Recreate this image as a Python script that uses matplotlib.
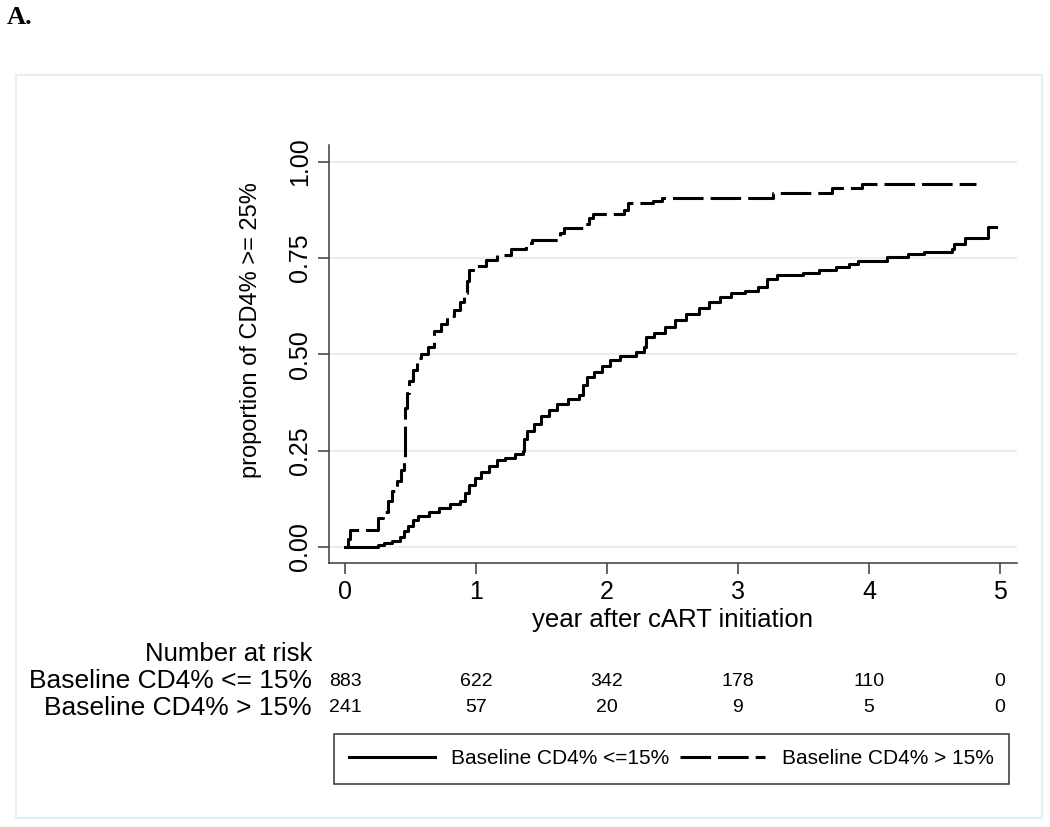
import matplotlib
matplotlib.use("Agg")
import matplotlib.pyplot as plt
from matplotlib.patches import Rectangle
from matplotlib.lines import Line2D

# Kaplan-Meier style curves (years, cumulative proportion)
low_t = [0, 0.25, 0.30, 0.36, 0.42, 0.45, 0.48, 0.52, 0.56, 0.64, 0.72, 0.80,
         0.88, 0.92, 0.95, 0.99, 1.04, 1.10, 1.16, 1.22, 1.30, 1.36, 1.37, 1.39,
         1.44, 1.50, 1.56, 1.62, 1.70, 1.79, 1.82, 1.85, 1.90, 1.96, 2.02, 2.10,
         2.22, 2.28, 2.30, 2.36, 2.44, 2.52, 2.60, 2.70, 2.78, 2.86, 2.95, 3.05,
         3.15, 3.22, 3.30, 3.50, 3.62, 3.75, 3.85, 3.92, 4.14, 4.30, 4.42, 4.63,
         4.65, 4.73, 4.91, 4.97]
low_p = [0, 0.005, 0.01, 0.016, 0.025, 0.04, 0.055, 0.07, 0.08, 0.09, 0.10, 0.11,
         0.12, 0.14, 0.16, 0.18, 0.195, 0.21, 0.225, 0.23, 0.24, 0.25, 0.28, 0.30,
         0.32, 0.34, 0.355, 0.37, 0.385, 0.395, 0.42, 0.44, 0.455, 0.47, 0.485, 0.496,
         0.505, 0.52, 0.545, 0.555, 0.57, 0.59, 0.605, 0.62, 0.635, 0.65, 0.66, 0.665,
         0.675, 0.695, 0.705, 0.712, 0.72, 0.728, 0.735, 0.742, 0.752, 0.76, 0.767, 0.775,
         0.788, 0.802, 0.83, 0.83]

high_t = [0, 0.02, 0.04, 0.25, 0.29, 0.33, 0.36, 0.40, 0.43, 0.45, 0.455, 0.46,
          0.47, 0.49, 0.52, 0.55, 0.58, 0.63, 0.68, 0.73, 0.78, 0.83, 0.88, 0.91,
          0.93, 0.95, 1.00, 1.08, 1.16, 1.27, 1.38, 1.43, 1.64, 1.67, 1.82, 1.86,
          1.89, 2.13, 2.16, 2.35, 2.42, 3.27, 3.72, 3.95, 4.82]
high_p = [0, 0.02, 0.045, 0.075, 0.09, 0.12, 0.145, 0.17, 0.20, 0.23, 0.30, 0.36,
          0.40, 0.43, 0.46, 0.49, 0.50, 0.52, 0.56, 0.58, 0.60, 0.615, 0.635, 0.66,
          0.69, 0.72, 0.73, 0.745, 0.758, 0.775, 0.79, 0.797, 0.815, 0.828, 0.84, 0.855,
          0.866, 0.875, 0.893, 0.899, 0.907, 0.92, 0.932, 0.943, 0.943]

risk_years = [0, 1, 2, 3, 4, 5]
risk_low = [883, 622, 342, 178, 110, 0]
risk_high = [241, 57, 20, 9, 5, 0]

label_low = 'Baseline CD4% <=15%'
label_high = 'Baseline CD4% > 15%'
row_low = 'Baseline CD4% <= 15%'
row_high = 'Baseline CD4% > 15%'

SANS = ['Liberation Sans', 'DejaVu Sans']
GRID = '#e6eff1'
AXC = '#3a3a3a'

fig = plt.figure(figsize=(10.5, 8.27), dpi=100)

# outer light frame
fig.patches.append(Rectangle((16 / 1050, 1 - 818 / 827), (1042 - 16) / 1050, (818 - 75) / 827,
                             transform=fig.transFigure, fill=False, edgecolor=GRID, lw=1.6))

fig.text(7 / 1050, 1 - 18 / 827, 'A.', family=['Liberation Serif', 'DejaVu Serif'],
         weight='bold', fontsize=19, va='center', ha='left')

ax = fig.add_axes([329 / 1050, 1 - 563 / 827, (1017 - 329) / 1050, (563 - 145) / 827])
ax.set_xlim(-0.122, 5.13)
ax.set_ylim(-0.042, 1.044)
for s in ('top', 'right'):
    ax.spines[s].set_visible(False)
for s in ('left', 'bottom'):
    ax.spines[s].set_color(AXC)
    ax.spines[s].set_linewidth(1.1)

ax.set_yticks([0, 0.25, 0.5, 0.75, 1.0])
ax.set_yticklabels(['0.00', '0.25', '0.50', '0.75', '1.00'], rotation=90, va='center',
                   family=SANS, fontsize=18)
ax.set_xticks(risk_years)
ax.set_xticklabels([str(v) for v in risk_years], family=SANS, fontsize=18)
ax.tick_params(length=8, width=1.1, color=AXC, pad=4)
ax.grid(axis='y', color=GRID, lw=1.6)
ax.set_axisbelow(True)

ax.plot(low_t, low_p, drawstyle='steps-post', color='black', lw=2.2)
ax.plot(high_t, high_p, drawstyle='steps-post', color='black', lw=2.2, dashes=[10, 2.3])

fig.text(673 / 1050, 1 - 620 / 827, 'year after cART initiation', family=SANS,
         fontsize=18.5, ha='center', va='center')
fig.text(251 / 1050, 1 - 330 / 827, 'proportion of CD4% >= 25%', family=SANS,
         fontsize=17, ha='center', va='center', rotation=90)

# number at risk table
tr = matplotlib.transforms.blended_transform_factory(ax.transData, fig.transFigure)
fig.text(312 / 1050, 1 - 654 / 827, 'Number at risk', family=SANS, fontsize=18.5,
         ha='right', va='center')
fig.text(312 / 1050, 1 - 681 / 827, row_low, family=SANS, fontsize=19,
         ha='right', va='center')
fig.text(312 / 1050, 1 - 708 / 827, row_high, family=SANS, fontsize=19,
         ha='right', va='center')
for yr, a, b in zip(risk_years, risk_low, risk_high):
    ax.text(yr, 1 - 681 / 827, str(a), transform=tr, family=SANS, fontsize=14,
            ha='center', va='center')
    ax.text(yr, 1 - 708 / 827, str(b), transform=tr, family=SANS, fontsize=14,
            ha='center', va='center')

# legend box
handles = [Line2D([], [], color='black', lw=2.2),
           Line2D([], [], color='black', lw=2.2, dashes=[10, 2.3])]
leg = fig.legend(handles, [label_low, label_high], ncol=2,
                 loc='center', bbox_to_anchor=((337 + 1006) / 2 / 1050, 1 - 759 / 827),
                 frameon=True, fancybox=False, edgecolor='black', handlelength=4.1,
                 columnspacing=0.5, handletextpad=0.8, borderpad=0.75, borderaxespad=0,
                 prop={'family': SANS, 'size': 15})
leg.get_frame().set_linewidth(1.1)

fig.savefig('out.png', dpi=100)
